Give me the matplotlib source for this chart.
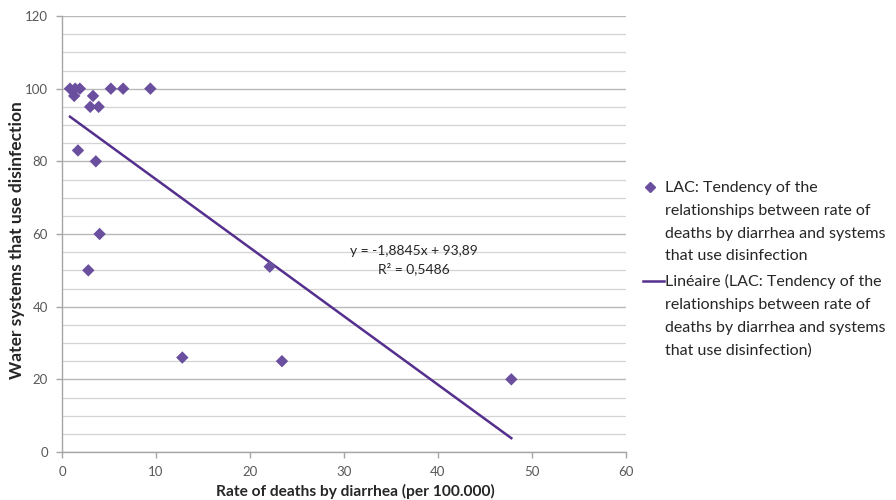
import matplotlib
matplotlib.use("Agg")
import matplotlib.pyplot as plt
from matplotlib.lines import Line2D
import numpy as np

plt.rcParams['font.family'] = ['Lato', 'DejaVu Sans']

# Rate of deaths by diarrhea (per 100.000) vs. share of water systems using disinfection
death_rate = [0.85, 1.4, 1.9, 5.2, 6.5, 9.4, 1.3, 3.3, 3.0, 3.9,
              1.7, 3.6, 4.0, 2.8, 22.1, 12.8, 23.4, 47.8]
disinfection = [100, 100, 100, 100, 100, 100, 98, 98, 95, 95,
                83, 80, 60, 50, 51, 26, 25, 20]

# Linear trend reported on the chart
slope = -1.8845
intercept = 93.89
r_squared = 0.5486

series_label = ("LAC: Tendency of the\nrelationships between rate of\n"
                "deaths by diarrhea and systems\nthat use disinfection")
trend_label = ("Linéaire (LAC: Tendency of the\nrelationships between rate of\n"
               "deaths by diarrhea and systems\nthat use disinfection)")

marker_color = '#6b4f9f'
line_color = '#552f8e'
tick_color = '#595959'

fig = plt.figure(figsize=(8.96, 5.0), dpi=100)
ax = fig.add_axes([62 / 896, 1 - 452 / 500, (626 - 62) / 896, (452 - 16) / 500])

ax.set_xlim(0, 60)
ax.set_ylim(0, 120)
ax.set_xticks(np.arange(0, 61, 10))
ax.set_yticks(np.arange(0, 121, 20))
ax.set_yticks(np.arange(0, 121, 5), minor=True)

ax.grid(True, which='major', axis='y', color='#b8b8b8', linewidth=1.0)
ax.grid(True, which='minor', axis='y', color='#d4d4d4', linewidth=0.9)
ax.set_axisbelow(True)

for side in ('top', 'right'):
    ax.spines[side].set_visible(False)
for side in ('left', 'bottom'):
    ax.spines[side].set_color('#a6a6a6')
    ax.spines[side].set_linewidth(1.0)

ax.tick_params(axis='both', which='major', colors='#a6a6a6', labelcolor=tick_color,
               labelsize=9.5, length=4, width=1)
ax.tick_params(axis='y', which='minor', length=0)
ax.tick_params(axis='x', pad=6)
ax.tick_params(axis='y', pad=6)

ax.scatter(death_rate, disinfection, marker='D', s=40, color=marker_color,
           edgecolors='none', zorder=3)

x_fit = np.array([min(death_rate), max(death_rate)])
ax.plot(x_fit, slope * x_fit + intercept, color=line_color, linewidth=1.8, zorder=2)

eq_text = "y = {}x + {}\nR² = {}".format(
    f"{slope:.4f}".replace('.', ','), f"{intercept:.2f}".replace('.', ','),
    f"{r_squared:.4f}".replace('.', ','))
ax.text(37.4, 52.8, eq_text, ha='center', va='center', fontsize=10,
        color='#262626', linespacing=1.45)

ax.set_xlabel("Rate of deaths by diarrhea (per 100.000)", fontsize=11.2,
              fontweight='bold', color='#262626', va='center')
ax.xaxis.set_label_coords((355 - 62) / 564, (452 - 491) / 436)
ax.set_ylabel("Water systems that use disinfection", fontsize=12.5,
              fontweight='bold', color='#262626', va='center')
ax.yaxis.set_label_coords((17 - 62) / 564, (452 - 240) / 436)

# Legend drawn beside the plot area
fig.text(665 / 896, 1 - 181 / 500, series_label, ha='left', va='top', fontsize=11.5,
         color='#262626', linespacing=1.8)
fig.add_artist(Line2D([650 / 896], [1 - 187 / 500], marker='D', markersize=5,
                      color=marker_color, linestyle='none', transform=fig.transFigure))
fig.text(665 / 896, 1 - 274 / 500, trend_label, ha='left', va='top', fontsize=11.5,
         color='#262626', linespacing=1.8)
fig.add_artist(Line2D([643 / 896, 664 / 896], [1 - 281 / 500, 1 - 281 / 500],
                      color=line_color, linewidth=1.8, transform=fig.transFigure))

fig.savefig("out.png", dpi=100)
